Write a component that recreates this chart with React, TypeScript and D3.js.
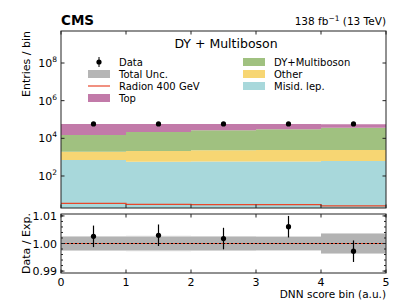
import React from 'react';
import * as d3 from 'd3';

// bins along DNN score
const binEdges = [0, 1, 2, 3, 4, 5];
const binCenters = [0.5, 1.5, 2.5, 3.5, 4.5];

// stacked backgrounds, bottom -> top (entries per bin)
const misidLep = [700, 570, 580, 580, 630];
const other = [1250, 1530, 1720, 1820, 1770];
const dyMultiboson = [13000, 19900, 24700, 27600, 34600];
const top = [43000, 36000, 31000, 28000, 19000];

const radion = [3.55, 3.1, 3.0, 3.0, 2.6];
const dataCounts = [58200, 58100, 58100, 58300, 58000];

// ratio panel
const ratioData = [1.0026, 1.003, 1.0018, 1.0061, 0.9972];
const ratioErr = [0.0039, 0.0039, 0.0039, 0.0039, 0.0039];
const uncInner = [0.0024, 0.0024, 0.0024, 0.0024, 0.0036];
const uncOuter = [0.0027, 0.0028, 0.0027, 0.0026, 0.0036];

const yMainTicks = [2, 4, 6, 8];
const yRatioTicks = [0.99, 1.0, 1.01];
const xTicks = [0, 1, 2, 3, 4, 5];

const stackNames = ['Misid. lep.', 'Other', 'DY+Multiboson', 'Top'];
const stackColors = ['#a8d8db', '#f7d673', '#a0c180', '#c27aa9'];
const stackValues = [misidLep, other, dyMultiboson, top];

const FONT = 'DejaVu Sans, sans-serif';

export default function App() {
  const left = 61;
  const right = 386;
  const mainTop = 31;
  const mainBottom = 208;
  const ratioTop = 214;
  const ratioBottom = 273;

  const x = d3.scaleLinear().domain([0, 5]).range([left, right]);
  const y = d3.scaleLog().domain([Math.pow(10, 0.3), Math.pow(10, 9.7)]).range([mainBottom, mainTop]);
  const yr = d3.scaleLinear().domain([0.9893, 1.0107]).range([ratioBottom, ratioTop]);

  // cumulative stack
  const cumul: number[][] = [];
  stackValues.forEach((vals, k) => {
    cumul.push(vals.map((v, i) => (k === 0 ? 0 : cumul[k - 1][i]) + v));
  });

  const stepArea = (lower: number[] | null, upper: number[]) => {
    let d = '';
    upper.forEach((u, i) => {
      d += `${i === 0 ? 'M' : 'L'}${x(binEdges[i])},${y(u)}L${x(binEdges[i + 1])},${y(u)}`;
    });
    for (let i = upper.length - 1; i >= 0; i--) {
      const lo = lower ? y(lower[i]) : mainBottom;
      d += `L${x(binEdges[i + 1])},${lo}L${x(binEdges[i])},${lo}`;
    }
    return d + 'Z';
  };

  const stepLine = (vals: number[]) =>
    vals.map((v, i) => `${i === 0 ? 'M' : 'L'}${x(binEdges[i])},${y(v)}L${x(binEdges[i + 1])},${y(v)}`).join('');

  const tk = 3.5;

  return (
    <svg width={407} height={305} style={{ position: 'absolute', left: 0, top: 0 }} fontFamily={FONT}>
      <rect width={407} height={305} fill="white" />

      {/* header */}
      <text x={left} y={25} fontSize={13.5} fontWeight="bold">CMS</text>
      <text x={right} y={25} fontSize={10.5} textAnchor="end">
        138 fb<tspan dy={-4.5} fontSize={7.5}>−1</tspan><tspan dy={4.5}> (13 TeV)</tspan>
      </text>

      {/* main panel stack */}
      <clipPath id="mainclip">
        <rect x={left} y={mainTop} width={right - left} height={mainBottom - mainTop} />
      </clipPath>
      <g clipPath="url(#mainclip)">
        {stackValues.map((_, k) => (
          <path key={k} d={stepArea(k === 0 ? null : cumul[k - 1], cumul[k])} fill={stackColors[k]} />
        ))}
        <path d={stepLine(radion)} fill="none" stroke="#e8462a" strokeWidth={1.2} />
      </g>
      {dataCounts.map((v, i) => (
        <g key={i}>
          <line x1={x(binCenters[i])} x2={x(binCenters[i])} y1={y(v + Math.sqrt(v))} y2={y(v - Math.sqrt(v))} stroke="black" />
          <circle cx={x(binCenters[i])} cy={y(v)} r={2.6} fill="black" />
        </g>
      ))}

      {/* main frame + ticks */}
      <rect x={left} y={mainTop} width={right - left} height={mainBottom - mainTop} fill="none" stroke="#222" strokeWidth={1} />
      {xTicks.map((t) => (
        <g key={t} stroke="#222">
          <line x1={x(t)} x2={x(t)} y1={mainBottom} y2={mainBottom - tk} />
          <line x1={x(t)} x2={x(t)} y1={mainTop} y2={mainTop + tk} />
        </g>
      ))}
      {yMainTicks.map((e) => (
        <g key={e}>
          <line x1={left} x2={left + tk} y1={y(Math.pow(10, e))} y2={y(Math.pow(10, e))} stroke="#222" />
          <line x1={right} x2={right - tk} y1={y(Math.pow(10, e))} y2={y(Math.pow(10, e))} stroke="#222" />
          <text x={left - 4} y={y(Math.pow(10, e)) + 4} fontSize={11} textAnchor="end">
            10<tspan dy={-5} fontSize={7.5}>{e}</tspan>
          </text>
        </g>
      ))}
      <text transform={`translate(30,${mainTop}) rotate(-90)`} fontSize={11} textAnchor="end">Entries / bin</text>

      {/* title + legend */}
      <text x={226} y={48} fontSize={12.5} textAnchor="middle">DY + Multiboson</text>
      <g fontSize={10}>
        <line x1={99} x2={99} y1={57} y2={67} stroke="black" />
        <circle cx={99} cy={62} r={2.6} fill="black" />
        <text x={119} y={66}>Data</text>
        <rect x={88} y={70} width={22} height={8} fill="#b5b5b5" />
        <text x={119} y={78}>Total Unc.</text>
        <line x1={88} x2={110} y1={86} y2={86} stroke="#e8462a" strokeWidth={1.2} />
        <text x={119} y={90}>Radion 400 GeV</text>
        {[3, 2, 1, 0].map((k, j) => {
          const col = j === 0 ? 0 : 1;
          const row = j === 0 ? 3 : j - 1;
          const hx = col === 0 ? 88 : 243;
          const ty = 62 + row * 12;
          return (
            <g key={k}>
              <rect x={hx} y={ty - 4} width={22} height={8} fill={stackColors[k]} />
              <text x={hx + 31} y={ty + 4}>{stackNames[k]}</text>
            </g>
          );
        })}
      </g>

      {/* ratio panel */}
      {binCenters.map((_, i) => (
        <g key={i}>
          <rect x={x(binEdges[i])} width={x(binEdges[i + 1]) - x(binEdges[i])}
            y={yr(1 + uncOuter[i])} height={yr(1 - uncOuter[i]) - yr(1 + uncOuter[i])} fill="#d9d9d9" />
          <rect x={x(binEdges[i])} width={x(binEdges[i + 1]) - x(binEdges[i])}
            y={yr(1 + uncInner[i])} height={yr(1 - uncInner[i]) - yr(1 + uncInner[i])} fill="#b3b3b3" />
        </g>
      ))}
      <line x1={left} x2={right} y1={yr(1)} y2={yr(1)} stroke="black" strokeWidth={1} />
      <line x1={left} x2={right} y1={yr(1)} y2={yr(1)} stroke="#e8462a" strokeWidth={1} strokeDasharray="2,2" />
      {ratioData.map((v, i) => (
        <g key={i}>
          <line x1={x(binCenters[i])} x2={x(binCenters[i])} y1={yr(v + ratioErr[i])} y2={yr(v - ratioErr[i])} stroke="black" strokeWidth={1.2} />
          <circle cx={x(binCenters[i])} cy={yr(v)} r={2.6} fill="black" />
        </g>
      ))}
      <rect x={left} y={ratioTop} width={right - left} height={ratioBottom - ratioTop} fill="none" stroke="#222" strokeWidth={1} />
      {xTicks.map((t) => (
        <g key={t}>
          <line x1={x(t)} x2={x(t)} y1={ratioBottom} y2={ratioBottom - tk} stroke="#222" />
          <line x1={x(t)} x2={x(t)} y1={ratioTop} y2={ratioTop + tk} stroke="#222" />
          <text x={x(t)} y={ratioBottom + 13} fontSize={11} textAnchor="middle">{t}</text>
        </g>
      ))}
      {d3.range(0.99, 1.0101, 0.002).map((t, i) => (
        <g key={i} stroke="#222">
          <line x1={left} x2={left + 2} y1={yr(t)} y2={yr(t)} />
          <line x1={right} x2={right - 2} y1={yr(t)} y2={yr(t)} />
        </g>
      ))}
      {yRatioTicks.map((t) => (
        <g key={t}>
          <line x1={left} x2={left + tk} y1={yr(t)} y2={yr(t)} stroke="#222" />
          <line x1={right} x2={right - tk} y1={yr(t)} y2={yr(t)} stroke="#222" />
          <text x={left - 4} y={yr(t) + 4} fontSize={11} textAnchor="end">{t.toFixed(2)}</text>
        </g>
      ))}
      <text transform={`translate(30,${(ratioTop + ratioBottom) / 2}) rotate(-90)`} fontSize={11} textAnchor="middle">Data / Exp.</text>
      <text x={right} y={298} fontSize={10.5} textAnchor="end">DNN score bin (a.u.)</text>
    </svg>
  );
}
